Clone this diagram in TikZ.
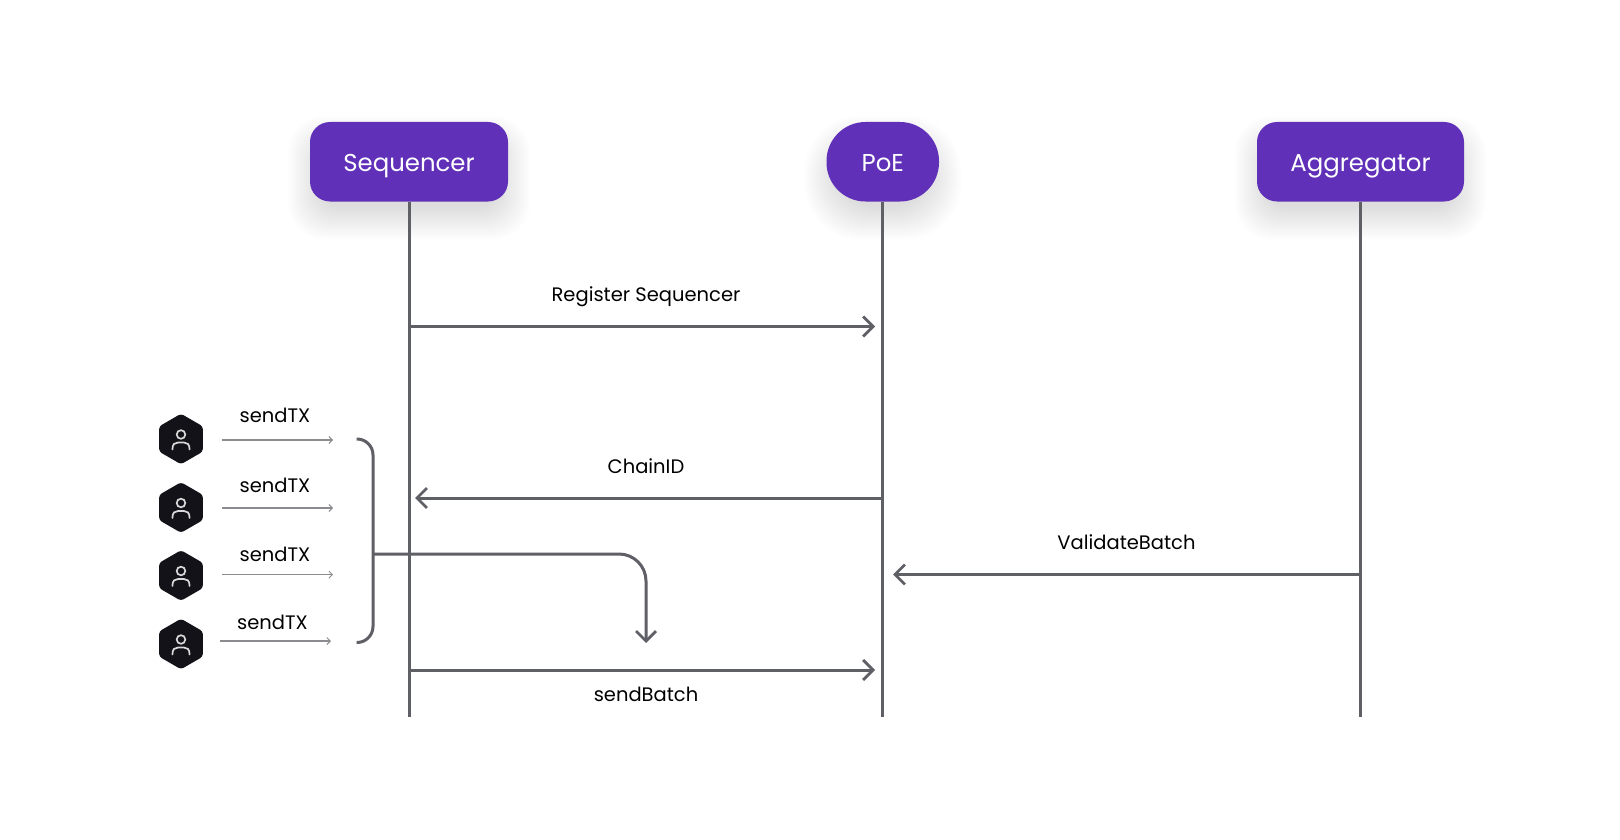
\documentclass[tikz,border=0pt]{standalone}
\usepackage{fontspec}
\setmainfont{Poppins}
\usetikzlibrary{arrows.meta,shapes.geometric}
\definecolor{purp}{HTML}{6030B8}
\definecolor{ln}{HTML}{5F5F66}
\definecolor{thin}{HTML}{8C8C90}
\definecolor{hexk}{HTML}{131218}
\tikzset{
  actorbox/.style={fill=purp,text=white,rounded corners=#1,minimum height=79.5pt,inner sep=0pt,text height=20pt,text depth=0pt,font=\fontsize{24.4}{28}\selectfont},
  lifeline/.style={draw=ln,line width=3pt},
  msg/.style={draw=ln,line width=3pt,-{Straight Barb[length=10pt,width=20pt,line width=2.8pt]}},
  brk/.style={draw=ln,line width=3pt,rounded corners=16pt},
  tiny/.style={draw=thin,line width=1.3pt,-{Straight Barb[length=3.5pt,width=7pt,line width=.9pt]}},
  lab/.style={text=black,inner sep=0pt,text height=10pt,text depth=0pt,font=\fontsize{19.5}{24}\selectfont},
  hexa/.style={regular polygon,regular polygon sides=6,shape border rotate=30,fill=hexk,minimum size=50.5pt,inner sep=0pt,rounded corners=3pt},
  iconline/.style={draw=white!85!black,line width=1.7pt,line cap=round},
}
\newcommand{\softshadow}[5]{% x1 y1 x2 y2 radius
  \foreach \g in {-10,-8,...,22}{
    \fill[purp!45!black,opacity=0.0075,rounded corners=#5+\g*0.5+6]
      (#1-\g,#2-\g+16) rectangle (#3+\g,#4+\g+16);
  }
}
\newcommand{\usericon}[1]{%
  \draw[iconline] ([yshift=4.5pt]#1.center) circle (4.3pt);
  \draw[iconline] ([xshift=-8.6pt,yshift=-10.5pt]#1.center)
    .. controls ([xshift=-8.6pt,yshift=-5pt]#1.center) and ([xshift=-6pt,yshift=-3.5pt]#1.center) .. ([xshift=-3pt,yshift=-3.5pt]#1.center)
    -- ([xshift=3pt,yshift=-3.5pt]#1.center)
    .. controls ([xshift=6pt,yshift=-3.5pt]#1.center) and ([xshift=8.6pt,yshift=-5pt]#1.center) .. ([xshift=8.6pt,yshift=-10.5pt]#1.center);
}
\begin{document}
\begin{tikzpicture}[x=1pt,y=-1pt]
\useasboundingbox (0,0) rectangle (1620,840);
\fill[white] (0,0) rectangle (1620,840);
% shadows
\softshadow{310}{122}{508}{201.5}{20}
\softshadow{826.5}{122}{939}{201.5}{38}
\softshadow{1257}{122}{1464}{201.5}{20}
% actors
\node[actorbox=20pt,minimum width=198pt] (seq) at (409,161.75) {Sequencer};
\node[actorbox=39pt,minimum width=112.5pt] (poe) at (882.75,161.75) {PoE};
\node[actorbox=20pt,minimum width=207pt] (agg) at (1360.5,161.75) {Aggregator};
% lifeline ends
\coordinate (seqEnd) at (seq.south |- 0,717);
\coordinate (poeEnd) at (poe.south |- 0,717);
\coordinate (aggEnd) at (agg.south |- 0,717);
\draw[lifeline] (seq.south) -- (seqEnd);
\draw[lifeline] (poe.south) -- (poeEnd);
\draw[lifeline] (agg.south) -- (aggEnd);
% messages
\coordinate (regS) at (seq.south |- 0,326.5);
\coordinate (regE) at (875,326.5);
\draw[msg] (regS) -- (regE);
\node[lab] (regL) at (646,296) {Register Sequencer};
\coordinate (chS) at (poe.south |- 0,498);
\coordinate (chE) at (415,498);
\draw[msg] (chS) -- (chE);
\node[lab] (chL) at (646,468) {ChainID};
\coordinate (vbS) at (agg.south |- 0,574.5);
\coordinate (vbE) at (893,574.5);
\draw[msg] (vbS) -- (vbE);
\node[lab] (vbL) at (1126.5,544) {ValidateBatch};
\coordinate (sbS) at (seq.south |- 0,670);
\coordinate (sbE) at (875,670);
\draw[msg] (sbS) -- (sbE);
\node[lab] (sbL) at (646,696.7) {sendBatch};
% users
\foreach \n/\y in {a/439,b/507.5,c/575.5,d/644}{
  \node[hexa] (hex\n) at (181,\y) {};
  \usericon{hex\n}
}
\foreach \n/\xa/\xb/\y/\lx/\ly in {a/222/333/440/275/417.2,b/222/333/508/275/487.8,c/222/333/574.7/275/556.7,d/220/331/641/272.5/624.6}{
  \coordinate (tS\n) at (\xa,\y);
  \coordinate (tE\n) at (\xb,\y);
  \draw[tiny] (tS\n) -- (tE\n);
  \node[lab] (tL\n) at (\lx,\ly) {sendTX};
}
% bracket
\coordinate (bT) at (356.5,439);
\coordinate (bB) at (356.5,642.5);
\coordinate (bC) at (373,439);
\coordinate (bD) at (373,642.5);
\coordinate (bM) at (373,554);
\coordinate (bE) at (646,643);
\draw[brk] (bT) -- (bC) -- (bD) -- (bB);
\draw[msg,rounded corners=27pt] (bM) -- (646,554) -- (bE);
\end{tikzpicture}
\end{document}
